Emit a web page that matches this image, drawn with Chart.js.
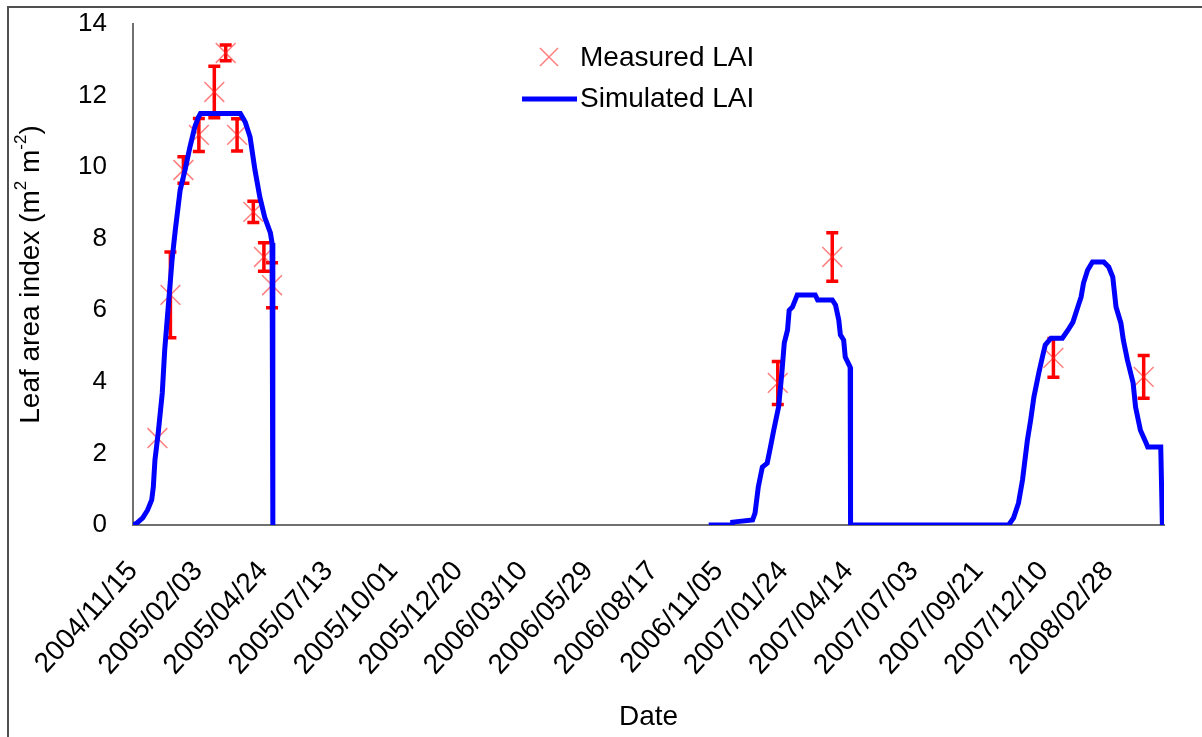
<!DOCTYPE html>
<html>
<head>
<meta charset="utf-8">
<script src="https://cdn.jsdelivr.net/npm/chart.js@4.4.1/dist/chart.umd.min.js"></script>
<style>
    html, body { margin: 0; padding: 0; background: #fff; }
    #wrap { width: 1202px; height: 737px; }
</style>
</head>
<body>
<div id="wrap"><canvas id="chartLai" width="1202" height="737"></canvas></div>
<script>
// day 0 of the x axis
const startDate = '2004/11/15';

const tickLabels = [
    '2004/11/15', '2005/02/03', '2005/04/24', '2005/07/13', '2005/10/01', '2005/12/20',
    '2006/03/10', '2006/05/29', '2006/08/17', '2006/11/05', '2007/01/24', '2007/04/14',
    '2007/07/03', '2007/09/21', '2007/12/10', '2008/02/28',
];

// measured LAI (days after start date), with error half-widths
const measuredDays = [30, 46, 62, 81, 100, 114, 128, 148, 161, 171, 793, 860, 1132, 1243];
const measuredLai = [2.43, 6.43, 9.92, 10.9, 12.1, 13.19, 10.9, 8.75, 7.49, 6.7, 3.97, 7.49, 4.67, 4.14];
const measuredErr = [0, 1.2, 0.37, 0.46, 0.72, 0.22, 0.45, 0.3, 0.4, 0.63, 0.6, 0.68, 0.54, 0.6];

// simulated LAI breakpoints (null = no simulation)
const simDays = [
    0, 5, 12, 18, 23, 25, 27, 31, 36, 39, 43, 48, 52, 58, 64, 70, 76, 80, 83, 132,
    138, 144, 150, 156, 162, 169, 171, 172,
    400,
    708, 737, 737.5, 762, 765, 769, 774, 780, 784, 788, 794, 798, 801, 805, 807, 811,
    817, 839, 842, 860, 864, 868, 870, 874, 876, 882, 882.5,
    1077, 1083, 1089, 1094, 1100, 1104, 1108, 1114, 1119, 1122, 1129, 1143, 1150, 1156,
    1162, 1166, 1169, 1174, 1180, 1194, 1200, 1205, 1209, 1215, 1218, 1223, 1230, 1233,
    1239, 1246, 1248, 1264, 1266,
];
const simLai = [
    0, 0.06, 0.2, 0.42, 0.7, 1.06, 1.82, 2.57, 3.69, 4.89, 6.0, 7.4, 8.24, 9.36, 9.92, 10.56, 11.12, 11.37, 11.5, 11.5,
    11.26, 10.84, 9.92, 9.16, 8.6, 8.16, 7.88, 0,
    null,
    0, 0, 0.08, 0.14, 0.33, 1.06, 1.62, 1.73, 2.18, 2.65, 3.3, 4.25, 5.09, 5.45, 6.0, 6.09,
    6.43, 6.43, 6.29, 6.29, 6.15, 5.73, 5.31, 5.17, 4.69, 4.41, 0,
    0, 0.2, 0.61, 1.26, 2.37, 2.93, 3.58, 4.25, 4.75, 5.03, 5.22, 5.22, 5.45, 5.67,
    6.09, 6.37, 6.76, 7.12, 7.35, 7.35, 7.21, 6.93, 6.09, 5.64, 5.17, 4.61, 3.97, 3.3,
    2.65, 2.29, 2.18, 2.18, 0,
];

const yTicks = [0, 2, 4, 6, 8, 10, 12, 14];

const FONT = "'Liberation Sans', Arial, sans-serif";
const DAY = 86400000;
const t0 = Date.UTC(2004, 10, 15);

function toDays(label) {
    const [y, m, d] = label.split('/').map(Number);
    return Math.round((Date.UTC(y, m - 1, d) - t0) / DAY);
}

function toLabel(days) {
    const dt = new Date(t0 + days * DAY);
    const p = n => String(n).padStart(2, '0');
    return dt.getUTCFullYear() + '/' + p(dt.getUTCMonth() + 1) + '/' + p(dt.getUTCDate());
}

const tickDays = tickLabels.map(toDays);

const measuredPoints = measuredDays.map((d, i) => ({ x: d, y: measuredLai[i] }));
const simPoints = simDays.map((d, i) => ({ x: d, y: simLai[i] }));

// outer frame of the figure
const framePlugin = {
    id: 'frame',
    beforeDraw(chart) {
        const ctx = chart.ctx;
        ctx.save();
        ctx.fillStyle = '#fff';
        ctx.fillRect(0, 0, chart.width, chart.height);
        ctx.strokeStyle = '#505050';
        ctx.lineWidth = 2;
        ctx.beginPath();
        ctx.moveTo(8, chart.height + 5);
        ctx.lineTo(8, 7);
        ctx.lineTo(chart.width + 5, 7);
        ctx.stroke();
        ctx.restore();
    },
};

// error bars of the measured points
const errorBarPlugin = {
    id: 'errorBars',
    beforeDatasetsDraw(chart) {
        const { ctx, scales: { x, y } } = chart;
        ctx.save();
        ctx.strokeStyle = '#ff0000';
        ctx.lineWidth = 3.5;
        measuredDays.forEach((d, i) => {
            const e = measuredErr[i];
            if (!e) return;
            const px = x.getPixelForValue(d);
            const top = y.getPixelForValue(measuredLai[i] + e);
            const bot = y.getPixelForValue(measuredLai[i] - e);
            ctx.beginPath();
            ctx.moveTo(px, top);
            ctx.lineTo(px, bot);
            ctx.moveTo(px - 6, top);
            ctx.lineTo(px + 6, top);
            ctx.moveTo(px - 6, bot);
            ctx.lineTo(px + 6, bot);
            ctx.stroke();
        });
        ctx.restore();
    },
};

// y title with superscripts, and the legend box
const labelsPlugin = {
    id: 'labels',
    afterDraw(chart) {
        const ctx = chart.ctx;
        const area = chart.chartArea;
        ctx.save();
        ctx.fillStyle = '#000';
        ctx.textBaseline = 'middle';

        // y axis title
        const big = '28px ' + FONT;
        const small = '17px ' + FONT;
        const parts = [
            ['Leaf area index (m', big, 0],
            ['2', small, -10],
            [' m', big, 0],
            ['-2', small, -10],
            [')', big, 0],
        ];
        let total = 0;
        parts.forEach(p => { ctx.font = p[1]; total += ctx.measureText(p[0]).width; });
        ctx.translate(31, (area.top + area.bottom) / 2);
        ctx.rotate(-Math.PI / 2);
        let cx = -total / 2;
        parts.forEach(p => {
            ctx.font = p[1];
            ctx.fillText(p[0], cx, p[2]);
            cx += ctx.measureText(p[0]).width;
        });
        ctx.setTransform(1, 0, 0, 1, 0, 0);

        // legend
        ctx.strokeStyle = 'rgba(255, 40, 40, 0.6)';
        ctx.lineWidth = 1.5;
        ctx.beginPath();
        ctx.moveTo(540, 48); ctx.lineTo(558, 66);
        ctx.moveTo(558, 48); ctx.lineTo(540, 66);
        ctx.stroke();
        ctx.strokeStyle = '#0000ff';
        ctx.lineWidth = 5;
        ctx.beginPath();
        ctx.moveTo(522, 99); ctx.lineTo(577, 99);
        ctx.stroke();
        ctx.font = '28px ' + FONT;
        ctx.fillText('Measured LAI', 580, 58);
        ctx.fillText('Simulated LAI', 580, 99);
        ctx.restore();
    },
};

new Chart(document.getElementById('chartLai').getContext('2d'), {
    type: 'scatter',
    data: {
        datasets: [
            {
                label: 'Measured LAI',
                data: measuredPoints,
                pointStyle: 'crossRot',
                radius: 14,
                borderColor: 'rgba(255, 40, 40, 0.6)',
                backgroundColor: 'rgba(255, 40, 40, 0.6)',
                borderWidth: 1.5,
                order: 1,
            },
            {
                label: 'Simulated LAI',
                type: 'line',
                data: simPoints,
                borderColor: '#0000ff',
                borderWidth: 5,
                pointRadius: 0,
                tension: 0,
                fill: false,
                spanGaps: false,
                order: 0,
            },
        ],
    },
    options: {
        responsive: false,
        animation: false,
        devicePixelRatio: 1,
        layout: { autoPadding: false, padding: { left: 0, top: 24, right: 38, bottom: 0 } },
        plugins: {
            legend: { display: false },
            tooltip: { enabled: false },
        },
        scales: {
            x: {
                type: 'linear',
                min: 0,
                max: 1268,
                grid: { display: false, drawTicks: false },
                border: { display: true, color: '#707070', width: 2 },
                afterBuildTicks: scale => { scale.ticks = tickDays.map(v => ({ value: v })); },
                afterFit: scale => {
                    scale.height = 212;
                    scale.paddingLeft = 0;
                    scale.paddingRight = 0;
                },
                ticks: {
                    autoSkip: false,
                    minRotation: 48,
                    maxRotation: 48,
                    padding: 30,
                    color: '#000',
                    font: { family: FONT, size: 28 },
                    callback: v => toLabel(v),
                },
                title: {
                    display: true,
                    text: 'Date',
                    color: '#000',
                    font: { family: FONT, size: 28 },
                    padding: { top: 0, bottom: 3 },
                },
            },
            y: {
                min: 0,
                max: 14,
                grid: { display: false, drawTicks: false },
                border: { display: true, color: '#707070', width: 2 },
                afterBuildTicks: scale => { scale.ticks = yTicks.map(v => ({ value: v })); },
                afterFit: scale => {
                    scale.width = 133;
                    scale.paddingTop = 0;
                    scale.paddingBottom = 0;
                },
                ticks: {
                    padding: 26,
                    color: '#000',
                    font: { family: FONT, size: 26 },
                },
            },
        },
    },
    plugins: [framePlugin, errorBarPlugin, labelsPlugin],
});
</script>
</body>
</html>
